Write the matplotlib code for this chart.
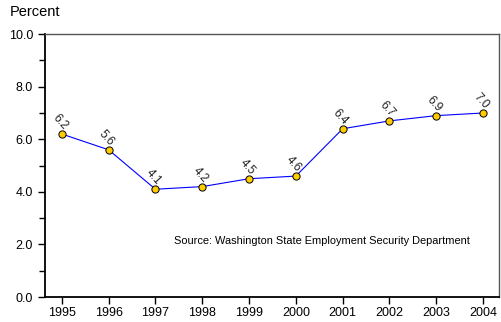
import matplotlib
matplotlib.use("Agg")
import matplotlib.pyplot as plt
from matplotlib.ticker import MultipleLocator, FormatStrFormatter

plt.rcParams['font.family'] = ['Liberation Sans', 'DejaVu Sans']

years = [1995, 1996, 1997, 1998, 1999, 2000, 2001, 2002, 2003, 2004]
rates = [6.2, 5.6, 4.1, 4.2, 4.5, 4.6, 6.4, 6.7, 6.9, 7.0]
year_labels = [str(y) for y in years]

fig = plt.figure(figsize=(5.02, 3.22), dpi=100)
ax = fig.add_axes([0.0896, 0.0776, 0.9044, 0.8164])

ax.plot(years, rates, color='#0000FF', lw=0.8, zorder=2)
ax.plot(years, rates, ls='none', marker='o', ms=5.2, mfc='#FFCC00', mec='black',
        mew=0.7, zorder=3)

for x, y in zip(years, rates):
    ax.annotate(f"{y:.1f}", (x, y), xytext=(-1.5, 8.5), textcoords='offset points',
                ha='center', va='center', rotation=-48, fontsize=8.5, color='#222222')

ax.set_xlim(1994.64, 2004.34)
ax.set_ylim(0, 10)
ax.set_xticks(years)
ax.set_xticklabels(year_labels)
ax.yaxis.set_major_locator(MultipleLocator(2))
ax.yaxis.set_minor_locator(MultipleLocator(1))
ax.yaxis.set_major_formatter(FormatStrFormatter('%.1f'))
ax.tick_params(axis='both', which='major', length=5, width=1, labelsize=9, colors='black')
ax.tick_params(axis='y', which='minor', length=4, width=1)
ax.tick_params(axis='x', pad=2)

for s in ['left', 'bottom']:
    ax.spines[s].set_linewidth(1.3)
    ax.spines[s].set_color('black')
for s in ['top', 'right']:
    ax.spines[s].set_linewidth(1.0)
    ax.spines[s].set_color('#555555')

fig.text(10 / 502, 1 - 12 / 322, "Percent", fontsize=10.5, ha='left', va='center')
ax.text(0.61, 0.213, "Source: Washington State Employment Security Department",
        transform=ax.transAxes, ha='center', va='center', fontsize=7.9)

fig.savefig("out.png", dpi=100)
